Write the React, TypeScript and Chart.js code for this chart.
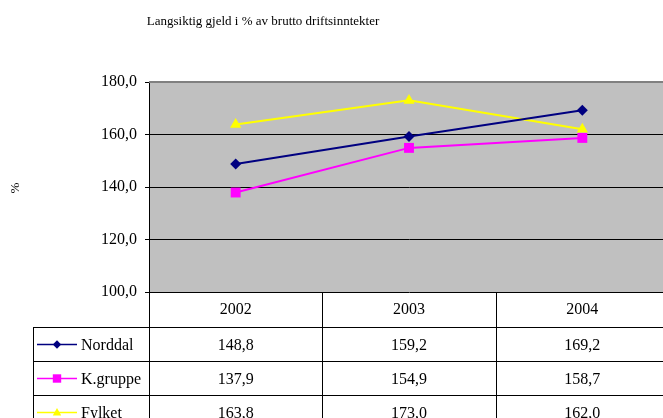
import React, { useEffect, useRef } from "react";
import { Chart, registerables } from "chart.js";

Chart.register(...registerables);

const categories = ["2002", "2003", "2004"];
const seriesNames = ["Norddal", "K.gruppe", "Fylket"];
const norddal = [148.8, 159.2, 169.2];
const kgruppe = [137.9, 154.9, 158.7];
const fylket = [163.8, 173.0, 162.0];
const yMin = 100;
const yMax = 180;
const yStep = 20;
const titleText = "Langsiktig gjeld i % av brutto driftsinntekter";
const yAxisLabel = "%";

const FONT = "'Liberation Serif', 'Times New Roman', serif";
const colors = ["#000080", "#FF00FF", "#FFFF00"];
const styles = ["rectRot", "rect", "triangle"];
const seriesValues = [norddal, kgruppe, fylket];

const fmt = (v: number) => v.toFixed(1).replace(".", ",");

function drawMarker(ctx: CanvasRenderingContext2D, style: string, x: number, y: number, s: number, color: string) {
  ctx.save();
  ctx.fillStyle = color;
  ctx.beginPath();
  if (style === "rectRot") {
    ctx.moveTo(x, y - s);
    ctx.lineTo(x + s, y);
    ctx.lineTo(x, y + s);
    ctx.lineTo(x - s, y);
  } else if (style === "rect") {
    ctx.rect(x - s, y - s, 2 * s, 2 * s);
  } else {
    ctx.moveTo(x, y - s * 1.1);
    ctx.lineTo(x + s, y + s * 0.7);
    ctx.lineTo(x - s, y + s * 0.7);
  }
  ctx.closePath();
  ctx.fill();
  ctx.restore();
}

const tablePlugin = {
  id: "tablePlugin",
  beforeDraw(chart: any) {
    const { ctx, chartArea: a } = chart;
    ctx.save();
    ctx.fillStyle = "#C0C0C0";
    ctx.fillRect(a.left, a.top, a.right - a.left, a.bottom - a.top);
    ctx.restore();
  },
  afterDraw(chart: any) {
    const { ctx, chartArea: a } = chart;
    const xs = chart.scales.x;
    const half = (xs.getPixelForValue(1) - xs.getPixelForValue(0)) / 2;
    const W = chart.width;
    const H = chart.height;

    ctx.save();
    ctx.strokeStyle = "#808080";
    ctx.lineWidth = 2;
    ctx.beginPath();
    ctx.moveTo(a.left, a.top);
    ctx.lineTo(a.right, a.top);
    ctx.stroke();

    ctx.fillStyle = "#000";
    ctx.font = `13px ${FONT}`;
    ctx.textAlign = "center";
    ctx.textBaseline = "alphabetic";
    ctx.fillText(titleText, 263, 25);

    ctx.save();
    ctx.translate(19, 188);
    ctx.rotate(-Math.PI / 2);
    ctx.textAlign = "center";
    ctx.textBaseline = "alphabetic";
    ctx.font = `13px ${FONT}`;
    ctx.fillText(yAxisLabel, 0, 0);
    ctx.restore();

    const headerTop = a.bottom;
    const headerH = 35;
    const rowH = 34;
    const legendLeft = 33;
    const rowsTop = headerTop + headerH;

    ctx.strokeStyle = "#000";
    ctx.lineWidth = 1;
    ctx.beginPath();
    for (let r = 0; r < seriesNames.length; r++) {
      const yy = Math.round(rowsTop + r * rowH) + 0.5;
      ctx.moveTo(legendLeft, yy);
      ctx.lineTo(W, yy);
    }
    ctx.moveTo(legendLeft + 0.5, rowsTop);
    ctx.lineTo(legendLeft + 0.5, H);
    for (let i = 0; i < categories.length; i++) {
      const xl = Math.round(xs.getPixelForValue(i) - half) + 0.5;
      ctx.moveTo(xl, headerTop);
      ctx.lineTo(xl, H);
    }
    ctx.stroke();

    ctx.font = `16px ${FONT}`;
    ctx.fillStyle = "#000";
    ctx.textAlign = "center";
    ctx.textBaseline = "alphabetic";
    categories.forEach((c, i) => {
      ctx.fillText(c, xs.getPixelForValue(i), headerTop + 22);
    });

    seriesNames.forEach((name, r) => {
      const top = rowsTop + r * rowH;
      const cy = top + rowH / 2;
      ctx.textAlign = "center";
      ctx.fillStyle = "#000";
      seriesValues[r].forEach((v, i) => {
        ctx.fillText(fmt(v), xs.getPixelForValue(i), top + 23);
      });
      ctx.strokeStyle = colors[r];
      ctx.lineWidth = 1.5;
      ctx.beginPath();
      ctx.moveTo(37, Math.round(cy) + 0.5);
      ctx.lineTo(77, Math.round(cy) + 0.5);
      ctx.stroke();
      drawMarker(ctx, styles[r], 57, Math.round(cy) + 0.5, 4.2, colors[r]);
      ctx.fillStyle = "#000";
      ctx.textAlign = "left";
      ctx.fillText(name, 81, top + 23);
    });
    ctx.restore();
  },
};

export default function App() {
  const ref = useRef<HTMLCanvasElement>(null);
  useEffect(() => {
    if (!ref.current) return;
    const chart = new Chart(ref.current, {
      type: "line",
      data: {
        labels: categories,
        datasets: seriesNames.map((name, i) => ({
          label: name,
          data: seriesValues[i],
          borderColor: colors[i],
          backgroundColor: colors[i],
          borderWidth: 2,
          pointStyle: styles[i] as any,
          pointRadius: i === 0 ? 5.5 : i === 1 ? 7 : 6.5,
          pointBorderWidth: 0,
          pointBackgroundColor: colors[i],
          tension: 0,
          fill: false,
        })),
      },
      options: {
        animation: false,
        responsive: false,
        devicePixelRatio: 1,
        layout: { autoPadding: false, padding: { top: 82, bottom: 126, left: 0, right: 0 } },
        plugins: {
          legend: { display: false },
          tooltip: { enabled: false },
          title: { display: false },
        },
        scales: {
          x: {
            type: "category",
            display: false,
            offset: true,
          },
          y: {
            min: yMin,
            max: yMax,
            afterFit: (scale: any) => {
              scale.width = 149;
            },
            ticks: {
              stepSize: yStep,
              color: "#000",
              padding: 8,
              font: { family: FONT, size: 16 },
              callback: (v: any) => fmt(Number(v)),
            },
            grid: {
              color: "#000",
              lineWidth: 1,
              drawTicks: true,
              tickLength: 4,
              tickColor: "#000",
            },
            border: { display: true, color: "#000", width: 1 },
          },
        },
      },
      plugins: [tablePlugin],
    });
    return () => chart.destroy();
  }, []);
  return (
    <div style={{ position: "fixed", left: 0, top: 0, width: 663, height: 418, overflow: "hidden", background: "#fff" }}>
      <div style={{ width: 669, height: 418 }}>
        <canvas ref={ref} width={669} height={418} style={{ display: "block", width: 669, height: 418 }} />
      </div>
    </div>
  );
}
